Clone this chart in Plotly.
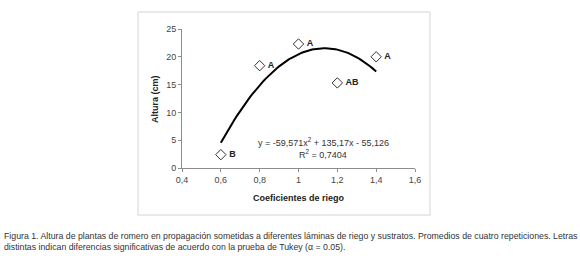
import plotly.graph_objects as go
import numpy as np

# Data
coef_riego = [0.6, 0.8, 1.0, 1.2, 1.4]
altura = [2.4, 18.4, 22.3, 15.3, 20.0]
letras = ["B", "A", "A", "AB", "A"]
# Trendline coefficients as shown in the chart: y = a x^2 + b x + c
poly_a, poly_b, poly_c = -59.571, 135.17, -55.126
trend_x = np.linspace(0.6, 1.4, 81)
trend_y = poly_a * trend_x**2 + poly_b * trend_x + poly_c

x_ticks = [0.4, 0.6, 0.8, 1.0, 1.2, 1.4, 1.6]
x_ticklabels = ["0,4", "0,6", "0,8", "1", "1,2", "1,4", "1,6"]
y_ticks = [0, 5, 10, 15, 20, 25]

W, H = 580, 256
L, R, T, B = 182, 165, 29, 88
pw, ph = W - L - R, H - T - B

def px(x):
    return (x - L) / pw

def py(y):
    return (H - B - y) / ph

fig = go.Figure()
fig.add_trace(go.Scatter(x=trend_x, y=trend_y, mode="lines",
                         line=dict(color="black", width=2), hoverinfo="skip"))
fig.add_trace(go.Scatter(x=coef_riego, y=altura, mode="markers+text",
                         marker=dict(symbol="diamond-open", size=8,
                                     color="#333333", line=dict(width=1, color="#333333")),
                         text=[" " + t for t in letras], textposition="middle right",
                         textfont=dict(family="Arial, Liberation Sans", size=9, color="#222222"),
                         texttemplate="<b>%{text}</b>"))

axis_font = dict(family="Arial, Liberation Sans", size=9, color="#444444")
fig.update_layout(
    width=W, height=H, margin=dict(l=L, r=R, t=T, b=B, pad=0),
    paper_bgcolor="white", plot_bgcolor="white", showlegend=False,
    xaxis=dict(range=[0.4, 1.6], tickvals=x_ticks, ticktext=x_ticklabels,
               showgrid=False, zeroline=False, showline=True, linecolor="#8c8c8c",
               linewidth=1, ticks="outside", ticklen=3, tickcolor="#8c8c8c",
               tickfont=axis_font),
    yaxis=dict(range=[0, 25], tickvals=y_ticks, showgrid=False, zeroline=False,
               showline=True, linecolor="#8c8c8c", linewidth=1, ticks="outside",
               ticklen=3, tickcolor="#8c8c8c", tickfont=axis_font),
    shapes=[dict(type="rect", xref="paper", yref="paper",
                 x0=px(138), x1=px(430), y0=py(215), y1=py(12),
                 line=dict(color="#d4d4d4", width=1), layer="below")],
    annotations=[
        dict(text="<b>Altura (cm)</b>", xref="paper", yref="paper", x=px(155), y=py(99),
             textangle=-90, showarrow=False, xanchor="center", yanchor="middle",
             font=dict(family="Arial, Liberation Sans", size=9, color="#222222")),
        dict(text="<b>Coeficientes de riego</b>", xref="paper", yref="paper", x=px(299), y=py(198),
             showarrow=False, xanchor="center", yanchor="middle",
             font=dict(family="Arial, Liberation Sans", size=9, color="#222222")),
        dict(text="y = -59,571x<sup>2</sup> + 135,17x - 55,126", xref="paper", yref="paper",
             x=px(323), y=py(142), showarrow=False, xanchor="center", yanchor="middle",
             font=dict(family="Arial, Liberation Sans", size=9, color="#333333")),
        dict(text="R<sup>2</sup> = 0,7404", xref="paper", yref="paper",
             x=px(323), y=py(154), showarrow=False, xanchor="center", yanchor="middle",
             font=dict(family="Arial, Liberation Sans", size=9, color="#333333")),
        dict(text="Figura 1. Altura de plantas de romero en propagación sometidas a diferentes láminas de riego y sustratos. Promedios de cuatro repeticiones. Letras<br>distintas indican diferencias significativas de acuerdo con la prueba de Tukey (α = 0.05).",
             xref="paper", yref="paper", x=px(2), y=py(229), showarrow=False,
             xanchor="left", yanchor="top", align="left",
             font=dict(family="Liberation Sans, Arial", size=8.75, color="#333333")),
    ],
)
fig.write_html("out.html", config={"displayModeBar": False},
               post_script="document.body.style.margin='0';document.body.style.padding='0';")
